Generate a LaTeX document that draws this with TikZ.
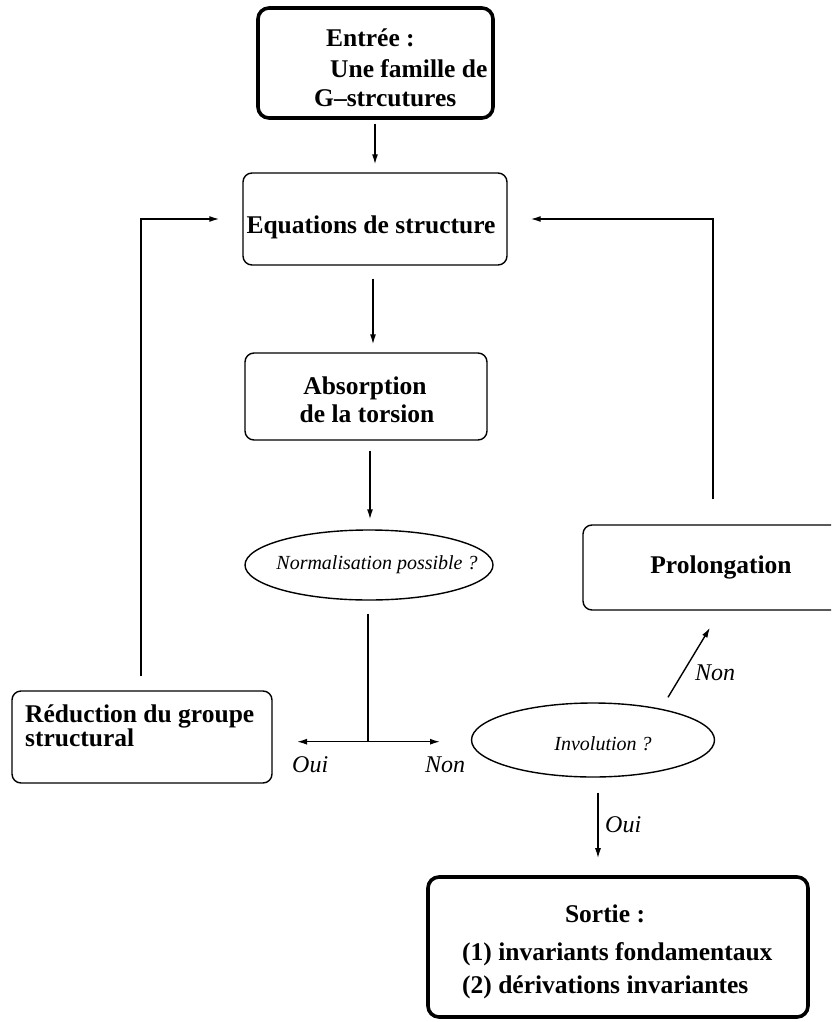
\documentclass[tikz,border=0pt]{standalone}
\usepackage{fontspec}
\setmainfont{Liberation Serif}
\usetikzlibrary{arrows.meta,shapes.geometric,calc}
\begin{document}
\begin{tikzpicture}[x=1pt,y=-1pt,
  box/.style={draw, line width=1.4pt, rounded corners=9pt, inner sep=0pt},
  thickbox/.style={draw, line width=3.6pt, rounded corners=11pt, inner sep=0pt},
  oval/.style={draw, ellipse, line width=1.4pt, inner sep=0pt},
  btxt/.style={inner sep=0pt, font=\fontsize{25.5}{30}\selectfont\bfseries},
  itxt/.style={inner sep=0pt, font=\fontsize{24}{28}\selectfont\itshape},
  etxt/.style={inner sep=0pt, font=\fontsize{20}{24}\selectfont\itshape},
  conn/.style={line width=1.4pt},
  arr/.style={conn, -{Latex[length=10pt,width=6pt]}}]

\useasboundingbox (0,0) rectangle (831,1022);
\clip (0,0) rectangle (831,1022);

% boxes
\node[thickbox, minimum width=235, minimum height=110] (entree) at (375.5,63) {};
\node[box, minimum width=264, minimum height=92] (eq) at (375,219) {};
\node[box, minimum width=242, minimum height=87] (abs) at (366,396.5) {};
\node[oval, minimum width=248, minimum height=70] (norm) at (369,565) {};
\node[box, minimum width=260, minimum height=92] (red) at (142,737) {};
\node[box, minimum width=277, minimum height=85] (prol) at (721.5,567.5) {};
\node[oval, minimum width=243, minimum height=74] (inv) at (593,740) {};
\node[thickbox, minimum width=380, minimum height=140] (sortie) at (618,947) {};

% texts
\node[btxt, anchor=base west] (te1) at (326,47) {Entrée :};
\node[btxt, anchor=base west] (te2) at (330,78) {Une famille de};
\node[btxt, anchor=base west] (te3) at (314,107) {G–strcutures};
\node[btxt, anchor=base] (teq) at (371,233) {Equations de structure};
\node[btxt, anchor=base] (ta1) at (365,394) {Absorption};
\node[btxt, anchor=base] (ta2) at (367,422) {de la torsion};
\node[etxt, anchor=base] (tn) at (377,569) {Normalisation possible ?};
\node[btxt, anchor=base west] (tr1) at (25,722) {Réduction du groupe};
\node[btxt, anchor=base west] (tr2) at (25,746) {structural};
\node[btxt, anchor=base] (tp) at (721,573) {Prolongation};
\node[etxt, anchor=base] (ti) at (603,750) {Involution ?};
\node[btxt, anchor=base] (ts1) at (605,922) {Sortie :};
\node[btxt, anchor=base west] (ts2) at (462,960) {(1) invariants fondamentaux};
\node[btxt, anchor=base west] (ts3) at (462,993) {(2) dérivations invariantes};

% labels
\node[itxt, anchor=base west] (loui) at (292,772) {Oui};
\node[itxt, anchor=base west] (lnon) at (425,772) {Non};
\node[itxt, anchor=base west] (lnon2) at (695,680) {Non};
\node[itxt, anchor=base west] (loui2) at (605,832) {Oui};

% connectors
\draw[arr] ($(entree.south)+(-0.5,4)$) -- ($(eq.north)+(0,-8)$);
\draw[arr] ($(eq.south)+(-2,13)$) -- ($(abs.north)+(7,-8)$);
\draw[arr] ($(abs.south)+(4,10)$) -- ($(norm.north)+(1,-10)$);
\draw[conn] ($(norm.south)+(-1,13)$) -- coordinate[pos=1] (tj) ($(norm.south)+(-1,141)$);
\coordinate (toui) at ($(tj)+(-71,0)$);
\coordinate (tnon) at ($(tj)+(72,0)$);
\draw[arr] (tj) -- (toui);
\draw[arr] (tj) -- (tnon);
\draw[arr] ($(red.north)+(-1,-14)$) |- ($(eq.west)+(-23,0)$);
\draw[arr] ($(prol.north)+(-8.5,-25)$) |- ($(eq.east)+(23,0)$);
\draw[arr] ($(inv.north)+(75,-5)$) -- ($(prol.south)+(-11.5,17)$);
\draw[arr] ($(inv.south)+(5,15)$) -- ($(sortie.north)+(-20,-17)$);
\end{tikzpicture}
\end{document}
